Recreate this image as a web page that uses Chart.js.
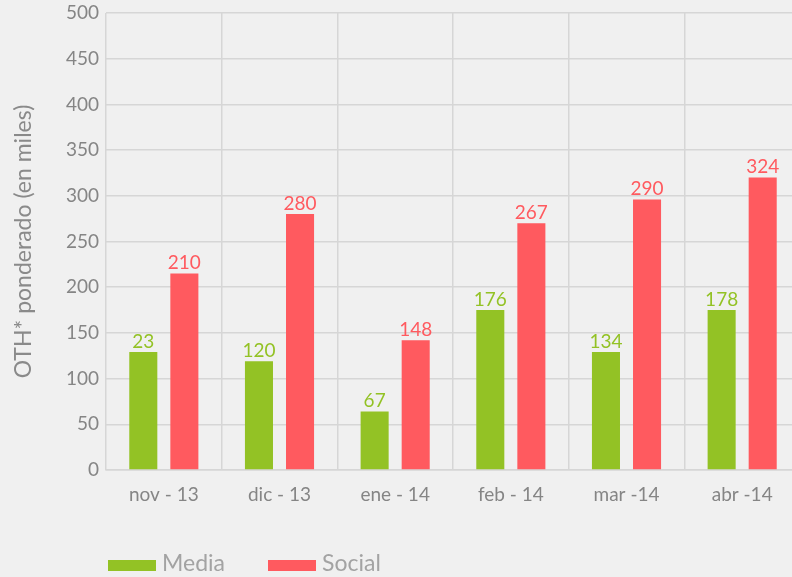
<!DOCTYPE html>
<html>
<head>
<meta charset="utf-8">
<script src="https://cdn.jsdelivr.net/npm/chart.js@4"></script>
<style>
  html, body { margin: 0; padding: 0; overflow: hidden; background: #f0f0f0; }
  #chart { display: block; }
</style>
</head>
<body>
<canvas id="chart" width="800" height="577"></canvas>
<script>
// data
const months = ["nov - 13", "dic - 13", "ene - 14", "feb - 14", "mar -14", "abr -14"];
const mediaValues = [129, 119, 64, 175, 129, 175];
const socialValues = [215, 280, 142, 270, 296, 320];
// printed value labels (as shown on the chart)
const mediaLabels = ["23", "120", "67", "176", "134", "178"];
const socialLabels = ["210", "280", "148", "267", "290", "324"];
const yTicks = [0, 50, 100, 150, 200, 250, 300, 350, 400, 450, 500];

const GREEN = "#93c225";
const RED = "#ff5a5f";
const FONT = "Lato, 'Open Sans', sans-serif";

// value labels on top of bars
const barLabels = {
  id: "barLabels",
  afterDatasetsDraw(chart) {
    const ctx = chart.ctx;
    ctx.save();
    ctx.font = "19px " + FONT;
    ctx.textAlign = "center";
    ctx.textBaseline = "bottom";
    chart.data.datasets.forEach((ds, i) => {
      const meta = chart.getDatasetMeta(i);
      ctx.fillStyle = ds.backgroundColor;
      meta.data.forEach((bar, j) => {
        ctx.fillText(ds.valueLabels[j], bar.x, bar.y - 1);
      });
    });
    ctx.restore();
  },
};

// legend drawn by hand so it sits bottom-left like the original
const bottomLegend = {
  id: "bottomLegend",
  afterDraw(chart) {
    const ctx = chart.ctx;
    ctx.save();
    ctx.font = "23px " + FONT;
    ctx.textBaseline = "middle";
    let x = 108;
    chart.data.datasets.forEach((ds) => {
      ctx.fillStyle = ds.backgroundColor;
      ctx.fillRect(x, 560, 48, 11);
      ctx.fillStyle = "#a3a3a3";
      ctx.fillText(ds.label, x + 54, 564);
      x += 160;
    });
    ctx.restore();
  },
};

const ctx = document.getElementById("chart").getContext("2d");
new Chart(ctx, {
  type: "bar",
  data: {
    labels: months,
    datasets: [
      {
        label: "Media",
        data: mediaValues,
        valueLabels: mediaLabels,
        backgroundColor: GREEN,
      },
      {
        label: "Social",
        data: socialValues,
        valueLabels: socialLabels,
        backgroundColor: RED,
      },
    ],
  },
  options: {
    responsive: false,
    animation: false,
    layout: { padding: { top: 13, left: 0, right: 0, bottom: 0 } },
    datasets: {
      bar: { categoryPercentage: 0.71, barPercentage: 0.683 },
    },
    plugins: {
      legend: { display: false },
      tooltip: { enabled: false },
    },
    scales: {
      x: {
        grid: { color: "#d6d6d6", lineWidth: 1.5, drawTicks: false },
        border: { color: "#d6d6d6", width: 1.5 },
        ticks: { color: "#858585", font: { family: FONT, size: 19 }, padding: 13 },
        afterFit: (scale) => { scale.height = 107; },
      },
      y: {
        min: 0,
        max: 500,
        afterBuildTicks: (scale) => { scale.ticks = yTicks.map((v) => ({ value: v })); },
        grid: { color: "#d6d6d6", lineWidth: 1.5, drawTicks: false },
        border: { display: false },
        ticks: { color: "#858585", font: { family: FONT, size: 19 }, padding: 7 },
        title: {
          display: true,
          text: "OTH* ponderado (en miles)",
          color: "#8a8a8a",
          font: { family: FONT, size: 23 },
          padding: { top: 10, bottom: 0 },
        },
        afterFit: (scale) => {
          scale.width = 106;
          scale.paddingTop = 0;
          scale.paddingBottom = 0;
        },
      },
    },
  },
  plugins: [barLabels, bottomLegend],
});
</script>
</body>
</html>
